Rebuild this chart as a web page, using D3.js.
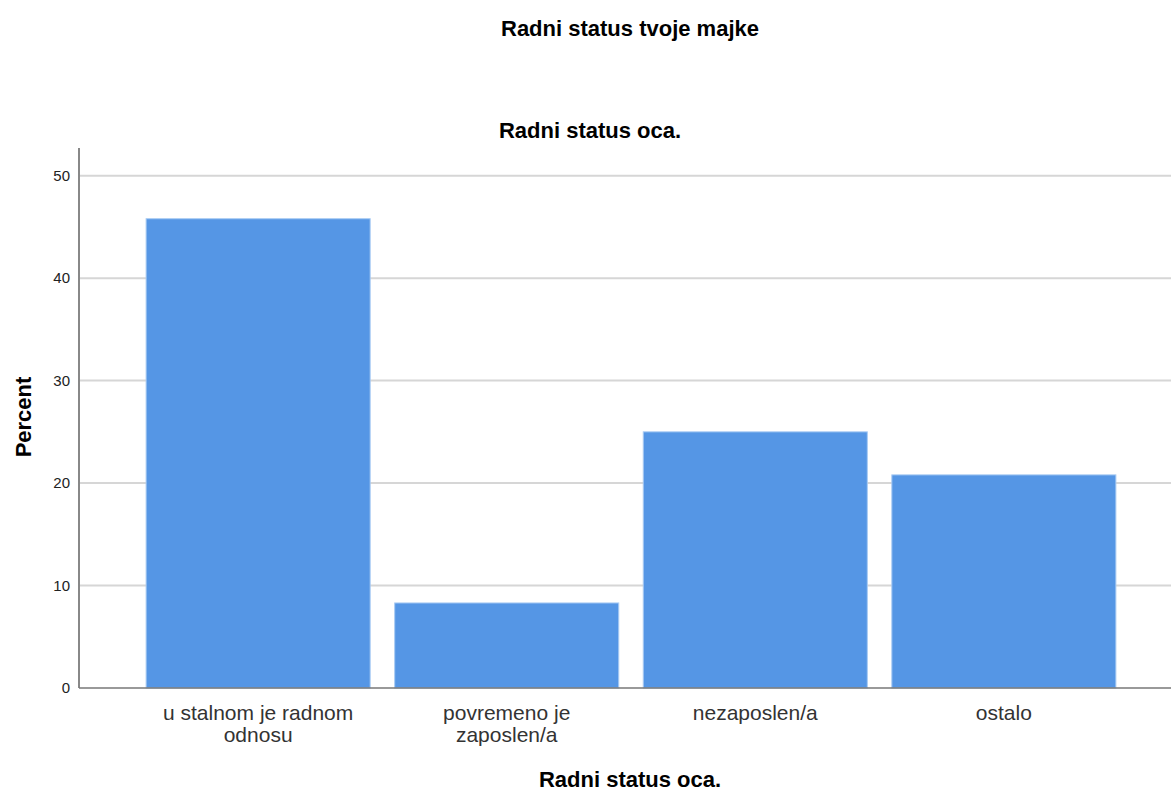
<!DOCTYPE html>
<html>
<head>
<meta charset="utf-8">
<script src="https://cdn.jsdelivr.net/npm/d3@7"></script>
<style>
  body { margin: 0; background: #fff; }
  text { font-family: "Liberation Sans", Arial, sans-serif; }
</style>
</head>
<body>
<div id="chart-area"></div>
<script>
// 1. Data
var categories = [["u stalnom je radnom", "odnosu"], ["povremeno je", "zaposlen/a"], ["nezaposlen/a"], ["ostalo"]];
var percents = [45.8, 8.3, 25.0, 20.8];
var y_ticks = [0, 10, 20, 30, 40, 50];

var svg_width = 1171, svg_height = 792;
var margin = { top: 148, left: 79, bottom: 104 };
var height = svg_height - margin.top - margin.bottom;

var svg = d3.select("#chart-area").append("svg")
    .attr("width", svg_width)
    .attr("height", svg_height);

// 2. Scales
var x_scaling = d3.scaleBand()
    .domain(d3.range(categories.length))
    .range([margin.left, 1183])
    .paddingInner(0.0986)
    .paddingOuter(0.27);

var y_scaling = d3.scaleLinear()
    .domain([0, 52.7])
    .range([margin.top + height, margin.top]);

// 3. Gridlines
svg.append("g").selectAll("line")
    .data(y_ticks.slice(1))
    .enter().append("line")
    .attr("x1", margin.left)
    .attr("x2", svg_width)
    .attr("y1", function (d) { return y_scaling(d); })
    .attr("y2", function (d) { return y_scaling(d); })
    .attr("stroke", "#d6d6d6")
    .attr("stroke-width", 2);

// 4. Bars
svg.append("g").selectAll("rect")
    .data(percents)
    .enter().append("rect")
    .attr("x", function (d, i) { return x_scaling(i); })
    .attr("y", function (d) { return y_scaling(d); })
    .attr("width", x_scaling.bandwidth())
    .attr("height", function (d) { return y_scaling(0) - y_scaling(d); })
    .attr("fill", "#5596e5")
    .attr("stroke", "#a9cbf3")
    .attr("stroke-width", 1);

// 5. Axes
var y_axis_call = d3.axisLeft(y_scaling).tickValues(y_ticks).tickSize(0).tickPadding(9);
var y_axis = svg.append("g")
    .attr("transform", "translate(" + margin.left + ",0)")
    .call(y_axis_call);
y_axis.select(".domain").remove();
y_axis.selectAll("text")
    .attr("font-size", "15px")
    .attr("fill", "#222")
    .style("font-family", "Liberation Sans, Arial, sans-serif");

svg.append("line")
    .attr("x1", margin.left).attr("x2", margin.left)
    .attr("y1", margin.top).attr("y2", y_scaling(0))
    .attr("stroke", "#888").attr("stroke-width", 2);
svg.append("line")
    .attr("x1", margin.left).attr("x2", svg_width)
    .attr("y1", y_scaling(0)).attr("y2", y_scaling(0))
    .attr("stroke", "#777").attr("stroke-width", 1.5);

// X category labels
var x_labels = svg.append("g").selectAll("text")
    .data(categories)
    .enter().append("text")
    .attr("x", function (d, i) { return x_scaling(i) + x_scaling.bandwidth() / 2; })
    .attr("y", 720)
    .attr("text-anchor", "middle")
    .attr("font-size", "21px")
    .attr("fill", "#333");
x_labels.selectAll("tspan")
    .data(function (d) { return d; })
    .enter().append("tspan")
    .attr("x", function () { return this.parentNode.getAttribute("x"); })
    .attr("dy", function (d, i) { return i === 0 ? 0 : 22; })
    .text(function (d) { return d; });

// 6. Titles
svg.append("text")
    .attr("x", 630).attr("y", 36)
    .attr("text-anchor", "middle")
    .attr("font-size", "22px").attr("font-weight", "bold")
    .text("Radni status tvoje majke");

svg.append("text")
    .attr("x", 590).attr("y", 138)
    .attr("text-anchor", "middle")
    .attr("font-size", "22px").attr("font-weight", "bold")
    .text("Radni status oca.");

svg.append("text")
    .attr("x", 630).attr("y", 787)
    .attr("text-anchor", "middle")
    .attr("font-size", "22px").attr("font-weight", "bold")
    .text("Radni status oca.");

svg.append("text")
    .attr("transform", "translate(31," + 417 + ") rotate(-90)")
    .attr("text-anchor", "middle")
    .attr("font-size", "22px").attr("font-weight", "bold")
    .text("Percent");
</script>
</body>
</html>
